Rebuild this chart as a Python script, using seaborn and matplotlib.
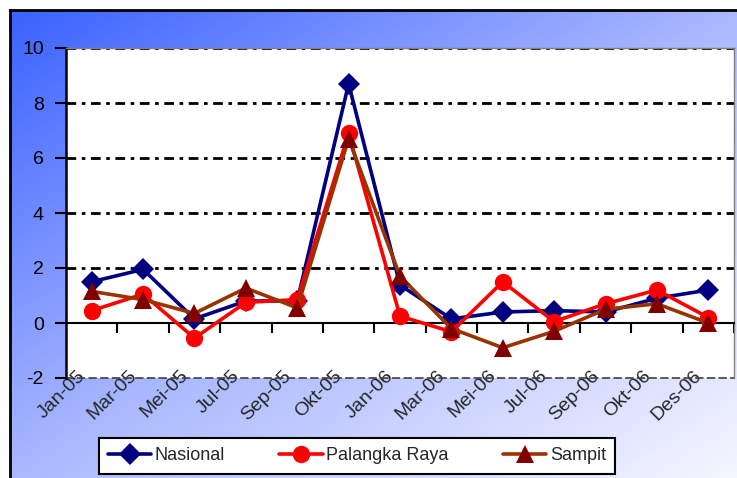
import numpy as np
import pandas as pd
import matplotlib
matplotlib.use('Agg')
import matplotlib.pyplot as plt
import matplotlib.transforms as mtrans
from matplotlib.colors import LinearSegmentedColormap
import seaborn as sns

# data (inflation, %)
periode = ['Jan-05', 'Mar-05', 'Mei-05', 'Jul-05', 'Sep-05', 'Okt-05', 'Jan-06',
           'Mar-06', 'Mei-06', 'Jul-06', 'Sep-06', 'Okt-06', 'Des-06']
nasional = [1.5, 1.95, 0.15, 0.8, 0.8, 8.7, 1.38, 0.15, 0.4, 0.45, 0.4, 0.9, 1.2]
palangka_raya = [0.45, 1.05, -0.55, 0.75, 0.85, 6.9, 0.25, -0.32, 1.5, 0.05, 0.7, 1.2, 0.2]
sampit = [1.15, 0.85, 0.35, 1.27, 0.55, 6.7, 1.7, -0.2, -0.9, -0.3, 0.5, 0.7, 0.0]
y_ticks = [-2, 0, 2, 4, 6, 8, 10]

sns.set_theme(style="white")
plt.rcParams['font.family'] = ['Liberation Sans', 'DejaVu Sans']

df = pd.DataFrame({'pos': np.arange(len(periode)), 'periode': periode,
                   'Nasional': nasional, 'Palangka Raya': palangka_raya, 'Sampit': sampit})

fig = plt.figure(figsize=(7.37, 4.78), dpi=100)
fig.patch.set_facecolor('white')

# gradient background frame
bg = fig.add_axes([10 / 737, 0, 1 - 10 / 737, 1 - 10 / 478])
cmap_bg = LinearSegmentedColormap.from_list('bg', ['#3a62ff', '#aab8ff', '#f6f6ff'])
gx, gy = np.meshgrid(np.linspace(0, 1, 300), np.linspace(0, 1, 200))
bg.imshow((gx + gy) / 2, cmap=cmap_bg, aspect='auto', extent=[0, 1, 1, 0], vmin=0, vmax=1)
bg.set_xticks([])
bg.set_yticks([])
for s in ['right', 'bottom']:
    bg.spines[s].set_visible(False)
for s in ['left', 'top']:
    bg.spines[s].set_color('black')
    bg.spines[s].set_linewidth(2)

ax = fig.add_axes([66 / 737, 1 - 378 / 478, 668 / 737, 330 / 478])
ax.set_facecolor('white')

sns.lineplot(data=df, x='pos', y='Nasional', ax=ax, color='#000080', linewidth=2.6,
             marker='D', markersize=11, markeredgewidth=0, label='Nasional', zorder=3)
sns.lineplot(data=df, x='pos', y='Palangka Raya', ax=ax, color='#ff0000', linewidth=2.6,
             marker='o', markersize=12.5, markeredgewidth=0, label='Palangka Raya', zorder=4)
sns.lineplot(data=df, x='pos', y='Sampit', ax=ax, color='#993300', linewidth=2.6,
             marker='^', markersize=13, markerfacecolor='#800000', markeredgewidth=0,
             label='Sampit', zorder=5)

n = len(periode)
ax.set_xlim(-0.5, n - 0.5)
ax.set_ylim(-2, 10)
ax.set_yticks(y_ticks)
ax.set_yticklabels([str(v) for v in y_ticks], fontsize=14, color='black')
ax.tick_params(axis='y', direction='out', length=8, width=1.5, color='black', pad=8, left=True)
for v in y_ticks[2:]:
    ax.axhline(v, color='black', linewidth=2, linestyle=(0, (3.5, 2, 1.3, 2)), zorder=1)
ax.set_xlabel('')
ax.set_ylabel('')

# axis line at y=0 with ticks at category boundaries
ax.spines['bottom'].set_position(('data', 0))
ax.spines['bottom'].set_color('black')
ax.spines['bottom'].set_linewidth(1.5)
ax.set_xticks(np.arange(n) + 0.5)
ax.set_xticklabels([])
ax.tick_params(axis='x', direction='out', length=7, width=1.5, color='black', bottom=True)

ax.spines['left'].set_color('black')
ax.spines['left'].set_linewidth(1.8)
for s in ['top', 'right']:
    ax.spines[s].set_color('#808080')
    ax.spines[s].set_linewidth(1)

# category labels along plot bottom
sec = ax.secondary_xaxis('bottom')
sec.set_xticks(np.arange(n))
sec.set_xticklabels(periode, fontsize=14, rotation=45, ha='right', va='center',
                    rotation_mode='anchor')
sec.tick_params(length=0, pad=0)
sec.spines['bottom'].set_linestyle((0, (4, 3)))
sec.spines['bottom'].set_color('#404040')
sec.spines['bottom'].set_linewidth(1.2)
off = mtrans.ScaledTranslation(-9 / 100, 5 / 100, fig.dpi_scale_trans)
for lab in sec.get_xticklabels():
    lab.set_transform(lab.get_transform() + off)

handles, labels = ax.get_legend_handles_labels()
ax.get_legend().remove()
leg = fig.legend(handles, labels, loc='center', bbox_to_anchor=(357 / 737, 1 - 456 / 478),
                 ncol=3, fontsize=13, frameon=True, fancybox=False, handlelength=2.4,
                 columnspacing=3.0, borderpad=0.5, handletextpad=0.2, borderaxespad=0)
leg.get_frame().set_edgecolor('black')
leg.get_frame().set_linewidth(1.5)
leg.get_frame().set_facecolor('white')
leg.get_frame().set_alpha(1)

fig.savefig('out.png', dpi=100)
